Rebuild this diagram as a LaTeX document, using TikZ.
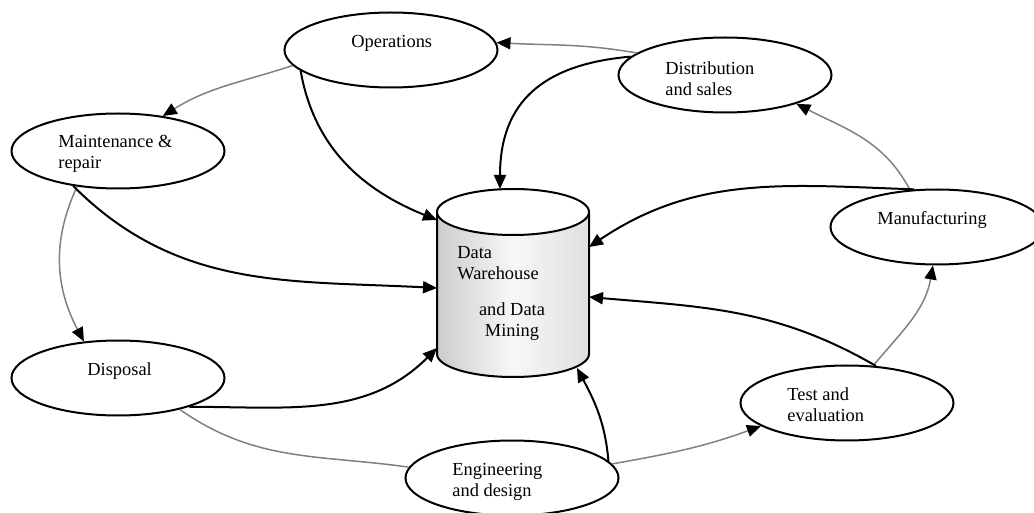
\documentclass[tikz,border=0pt]{standalone}
\usepackage{fontspec}
\setmainfont{Liberation Serif}
\usetikzlibrary{shapes.geometric,arrows.meta}
\tikzset{
	phase/.style={ellipse, draw, fill=white, line width=1pt, minimum width=106.5pt, minimum height=37.5pt, inner sep=0pt},
	lbl/.style={align=left, anchor=west, inner sep=0pt, font=\fontsize{9.2}{10.5}\selectfont},
	feed/.style={line width=1pt, -{Triangle[length=7pt,width=6pt]}},
	flow/.style={draw=gray, line width=0.75pt, -{Triangle[length=7pt,width=6pt,color=black]}}
}
\begin{document}
\begin{tikzpicture}[x=0.5pt,y=0.5pt]
			\pgfmathsetmacro{\rx}{38}
			\pgfmathsetmacro{\ry}{11.5}
			\useasboundingbox (0,0) rectangle (1034,-513);
			% data warehouse cylinder
			\shade[left color=gray!40, right color=gray!25, middle color=gray!6] (437,-212) -- (437,-354) arc[start angle=180, end angle=360, x radius=\rx pt, y radius=\ry pt] -- (589,-212) -- cycle;
			\draw[line width=1pt] (437,-212) -- (437,-354) arc[start angle=180, end angle=360, x radius=\rx pt, y radius=\ry pt] -- (589,-212);
			\draw[line width=1pt, fill=white] (513,-212) ellipse [x radius=\rx pt, y radius=\ry pt];
			\node[lbl] (dwtop) at (457,-263) {Data\\Warehouse};
			\node[lbl, anchor=center, align=center] (dwbot) at (512,-322) {and Data\\Mining};
			\coordinate (dw-ops) at (437,-220);
			\coordinate (dw-dist) at (500,-189);
			\coordinate (dw-mnt) at (437,-288);
			\coordinate (dw-disp) at (437,-348);
			\coordinate (dw-eng) at (577,-368);
			\coordinate (dw-test) at (589,-297);
			\coordinate (dw-manu) at (589,-247);
			% life cycle stages
			\node[phase] (ops) at (391,-50) {};
			\node[phase] (mnt) at (118,-151) {};
			\node[phase] (dist) at (725,-75) {};
			\node[phase] (manu) at (937,-227) {};
			\node[phase] (disp) at (118,-378) {};
			\node[phase] (eng) at (512,-478) {};
			\node[phase] (test) at (847,-403) {};
			\node[lbl] (opsT) at (351,-43) {Operations};
			\node[lbl] (mntT) at (58,-154) {Maintenance \&\\repair};
			\node[lbl] (distT) at (665,-79) {Distribution\\and sales};
			\node[lbl] (manuT) at (877,-220) {Manufacturing};
			\node[lbl] (dispT) at (87,-371) {Disposal};
			\node[lbl] (engT) at (452,-482) {Engineering\\and design};
			\node[lbl] (testT) at (787,-405) {Test and\\evaluation};
			% cycle
			\draw[flow] (dist.166) to[out=170, in=-3] (ops.4);
			\draw[flow] (ops.189) to[out=198, in=32] (mnt.38);
			\draw[flow] (mnt.221) to[out=245, in=118] (disp.133);
			\draw[draw=gray, line width=0.75pt] (disp.333) to[out=-35, in=172] (eng.174);
			\draw[flow] (eng.8) to[out=10, in=200] (test.195);
			\draw[flow] (test.55) to[out=50, in=-100] (manu.264);
			\draw[flow] (manu.126) to[out=118, in=-27] (dist.338);
			% into the warehouse
			\draw[feed] (ops.193) to[out=-80, in=158] (dw-ops);
			\draw[feed] (dist.169) to[out=185, in=90, looseness=1.2] (dw-dist);
			\draw[feed] (mnt.218) to[out=-45, in=177] (dw-mnt);
			\draw[feed] (disp.338) to[out=0, in=225] (dw-disp);
			\draw[feed] (eng.10) to[out=95, in=-62] (dw-eng);
			\draw[feed] (test.52) to[out=150, in=-5] (dw-test);
			\draw[feed] (manu.121) to[out=178, in=34] (dw-manu);
		\end{tikzpicture}
\end{document}
